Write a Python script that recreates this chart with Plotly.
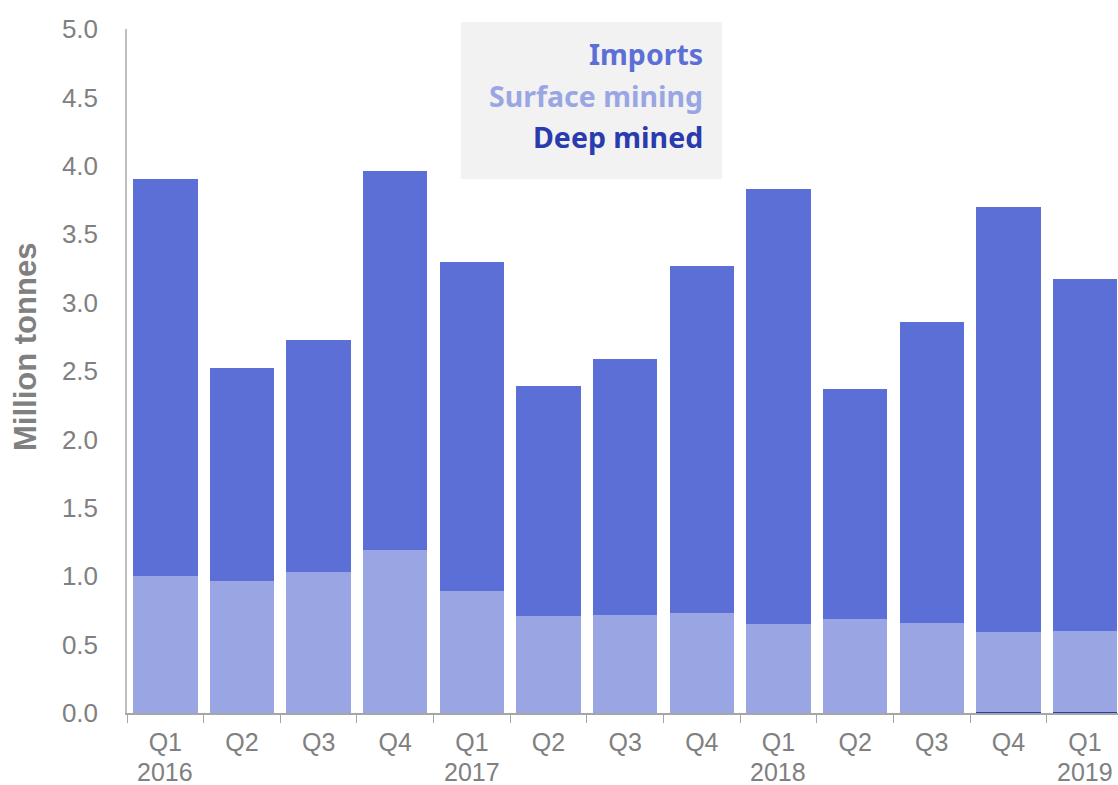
import plotly.graph_objects as go

periods = ["2016 Q1", "2016 Q2", "2016 Q3", "2016 Q4", "2017 Q1", "2017 Q2", "2017 Q3", "2017 Q4",
           "2018 Q1", "2018 Q2", "2018 Q3", "2018 Q4", "2019 Q1"]
quarter_labels = ["Q1", "Q2", "Q3", "Q4", "Q1", "Q2", "Q3", "Q4", "Q1", "Q2", "Q3", "Q4", "Q1"]
year_labels = ["2016", "", "", "", "2017", "", "", "", "2018", "", "", "", "2019"]
totals = [3.90, 2.52, 2.73, 3.96, 3.30, 2.39, 2.59, 3.27, 3.83, 2.37, 2.86, 3.70, 3.17]
surface = [1.00, 0.965, 1.03, 1.19, 0.89, 0.71, 0.72, 0.73, 0.65, 0.69, 0.66, 0.58, 0.59]
deep = [0, 0, 0, 0, 0, 0, 0, 0, 0, 0, 0, 0.01, 0.01]
imports = [round(t - s - d, 3) for t, s, d in zip(totals, surface, deep)]

c_imports = "#5b6fd6"
c_surface = "#9aa6e4"
c_deep = "#2a3cad"
grey = "#808080"

fig = go.Figure()
fig.add_bar(x=periods, y=deep, name="Deep mined", marker=dict(color=c_deep, line=dict(width=0)))
fig.add_bar(x=periods, y=surface, name="Surface mining", marker=dict(color=c_surface, line=dict(width=0)))
fig.add_bar(x=periods, y=imports, name="Imports", marker=dict(color=c_imports, line=dict(width=0)))

W, H = 1118, 785
L, R, T, B = 127, 0, 29, 72
pw, ph = W - L - R, H - T - B
base = T + ph  # plot bottom in figure pixels

fig.update_layout(
    barmode="stack", bargap=0.16, width=W, height=H,
    margin=dict(l=L, r=R, t=T, b=B),
    paper_bgcolor="white", plot_bgcolor="white", showlegend=False,
    font=dict(family="Liberation Sans, Arial, sans-serif", color=grey, size=20),
)
fig.update_xaxes(
    range=[-0.5, 12.43], showline=True, linecolor="#a6a6a6", linewidth=1.5,
    ticks="outside", tickson="boundaries", ticklen=8, tickcolor="#a6a6a6",
    tickmode="array", tickvals=periods, ticktext=quarter_labels, ticklabelstandoff=6,
    tickfont=dict(size=25, color=grey), showgrid=False,
)
fig.update_yaxes(
    range=[0, 5], dtick=0.5, tickformat=".1f", showline=True, linecolor="#bfbfbf",
    linewidth=1.5, showgrid=False, zeroline=False, ticks="outside", ticklen=22,
    tickcolor="rgba(0,0,0,0)", tickfont=dict(size=26, color=grey),
)

# y-axis title
fig.add_annotation(text="<b>Million tonnes</b>", xref="paper", yref="paper",
                   x=(25 - L) / pw, y=(base - 347) / ph, xanchor="center", yanchor="middle",
                   textangle=-90, showarrow=False, font=dict(size=31, color=grey))

# year labels under quarters
for p, yr in zip(periods, year_labels):
    if yr:
        fig.add_annotation(text=yr, xref="x", yref="paper", x=p, y=0, yanchor="top",
                           yshift=-44, borderpad=0, showarrow=False, font=dict(size=25, color=grey))

# legend box
fig.add_shape(type="rect", xref="paper", yref="paper",
              x0=(461 - L) / pw, x1=(722 - L) / pw,
              y0=(base - 179) / ph, y1=(base - 22) / ph,
              fillcolor="#f2f2f2", line=dict(width=0), layer="below")
legend_items = [("Imports", c_imports, 54), ("Surface mining", c_surface, 96), ("Deep mined", c_deep, 137)]
for txt, col, ypix in legend_items:
    fig.add_annotation(text=f"<b>{txt}</b>", xref="paper", yref="paper",
                       x=(705 - L) / pw, y=(base - ypix) / ph, xanchor="right", yanchor="middle",
                       showarrow=False, font=dict(family="Noto Sans, sans-serif", size=28.5, color=col))

fig.write_html("out.html", config={"displayModeBar": False},
               post_script="document.body.style.margin='0';document.body.style.overflow='hidden';")
